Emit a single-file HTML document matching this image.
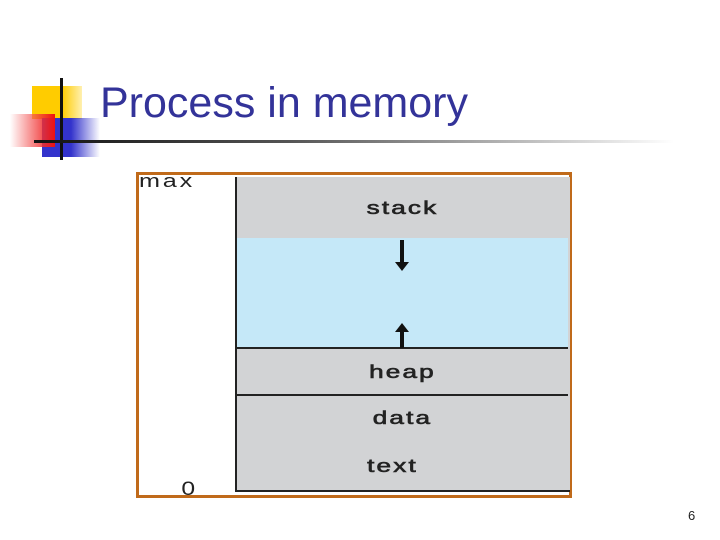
<!DOCTYPE html>
<html><head><style>
body{margin:0;width:720px;height:540px;background:#fff;position:relative;overflow:hidden;font-family:"Liberation Sans",sans-serif}
div{position:absolute}
.lbl{font-size:18px;color:#222;letter-spacing:1.5px;text-align:center;width:333px;left:236px;transform:scaleX(1.45);transform-origin:center;-webkit-text-stroke:0.6px #222}
</style></head><body>
<div style="left:32px;top:86px;width:50px;height:33px;background:linear-gradient(90deg,#ffcc00 60%,#fff0b0)"></div>
<div style="left:42px;top:118px;width:58px;height:39px;background:linear-gradient(90deg,#3333cc 50%,rgba(51,51,204,0))"></div>
<div style="left:10px;top:114px;width:45px;height:33px;background:linear-gradient(90deg,rgba(255,255,255,0.4),#ee1111)"></div>
<div style="left:60px;top:78px;width:3px;height:82px;background:#111"></div>
<div style="left:34px;top:140px;width:640px;height:3px;background:linear-gradient(90deg,#111 0%,#555 40%,#fff 100%)"></div>
<div style="left:100px;top:79px;font-size:43px;color:#333399;white-space:nowrap">Process in memory</div>

<div style="left:136px;top:172px;width:430px;height:320px;border:3.5px solid #c06a1a;background:#fff"></div>
<div style="left:235px;top:177px;width:333px;height:313px;background:#d2d3d5;border-left:2px solid #222;border-bottom:2px solid #222"></div>
<div style="left:237px;top:238px;width:331px;height:110px;background:#c5e8f8"></div>
<div style="left:237px;top:347px;width:331px;height:1.5px;background:#222"></div>
<div style="left:237px;top:394px;width:331px;height:1.5px;background:#222"></div>
<div style="left:400px;top:240px;width:4px;height:24px;background:#111"></div>
<div style="left:395px;top:262px;width:0;height:0;border-left:7px solid transparent;border-right:7px solid transparent;border-top:9px solid #111"></div>
<div style="left:400px;top:331px;width:4px;height:17px;background:#111"></div>
<div style="left:395px;top:323px;width:0;height:0;border-left:7px solid transparent;border-right:7px solid transparent;border-bottom:9px solid #111"></div>
<div class="lbl" style="top:198px">stack</div>
<div class="lbl" style="top:362px">heap</div>
<div class="lbl" style="top:408px">data</div>
<div class="lbl" style="top:456px;left:226px">text</div>
<div style="left:139px;top:171px;font-size:18px;letter-spacing:2px;color:#222;transform:scaleX(1.4);transform-origin:left">max</div>
<div style="left:183px;top:479px;font-size:19px;color:#222;transform:scaleX(1.3)">0</div>
<div style="left:688px;top:508px;font-size:13px;color:#222">6</div>
</body></html>
